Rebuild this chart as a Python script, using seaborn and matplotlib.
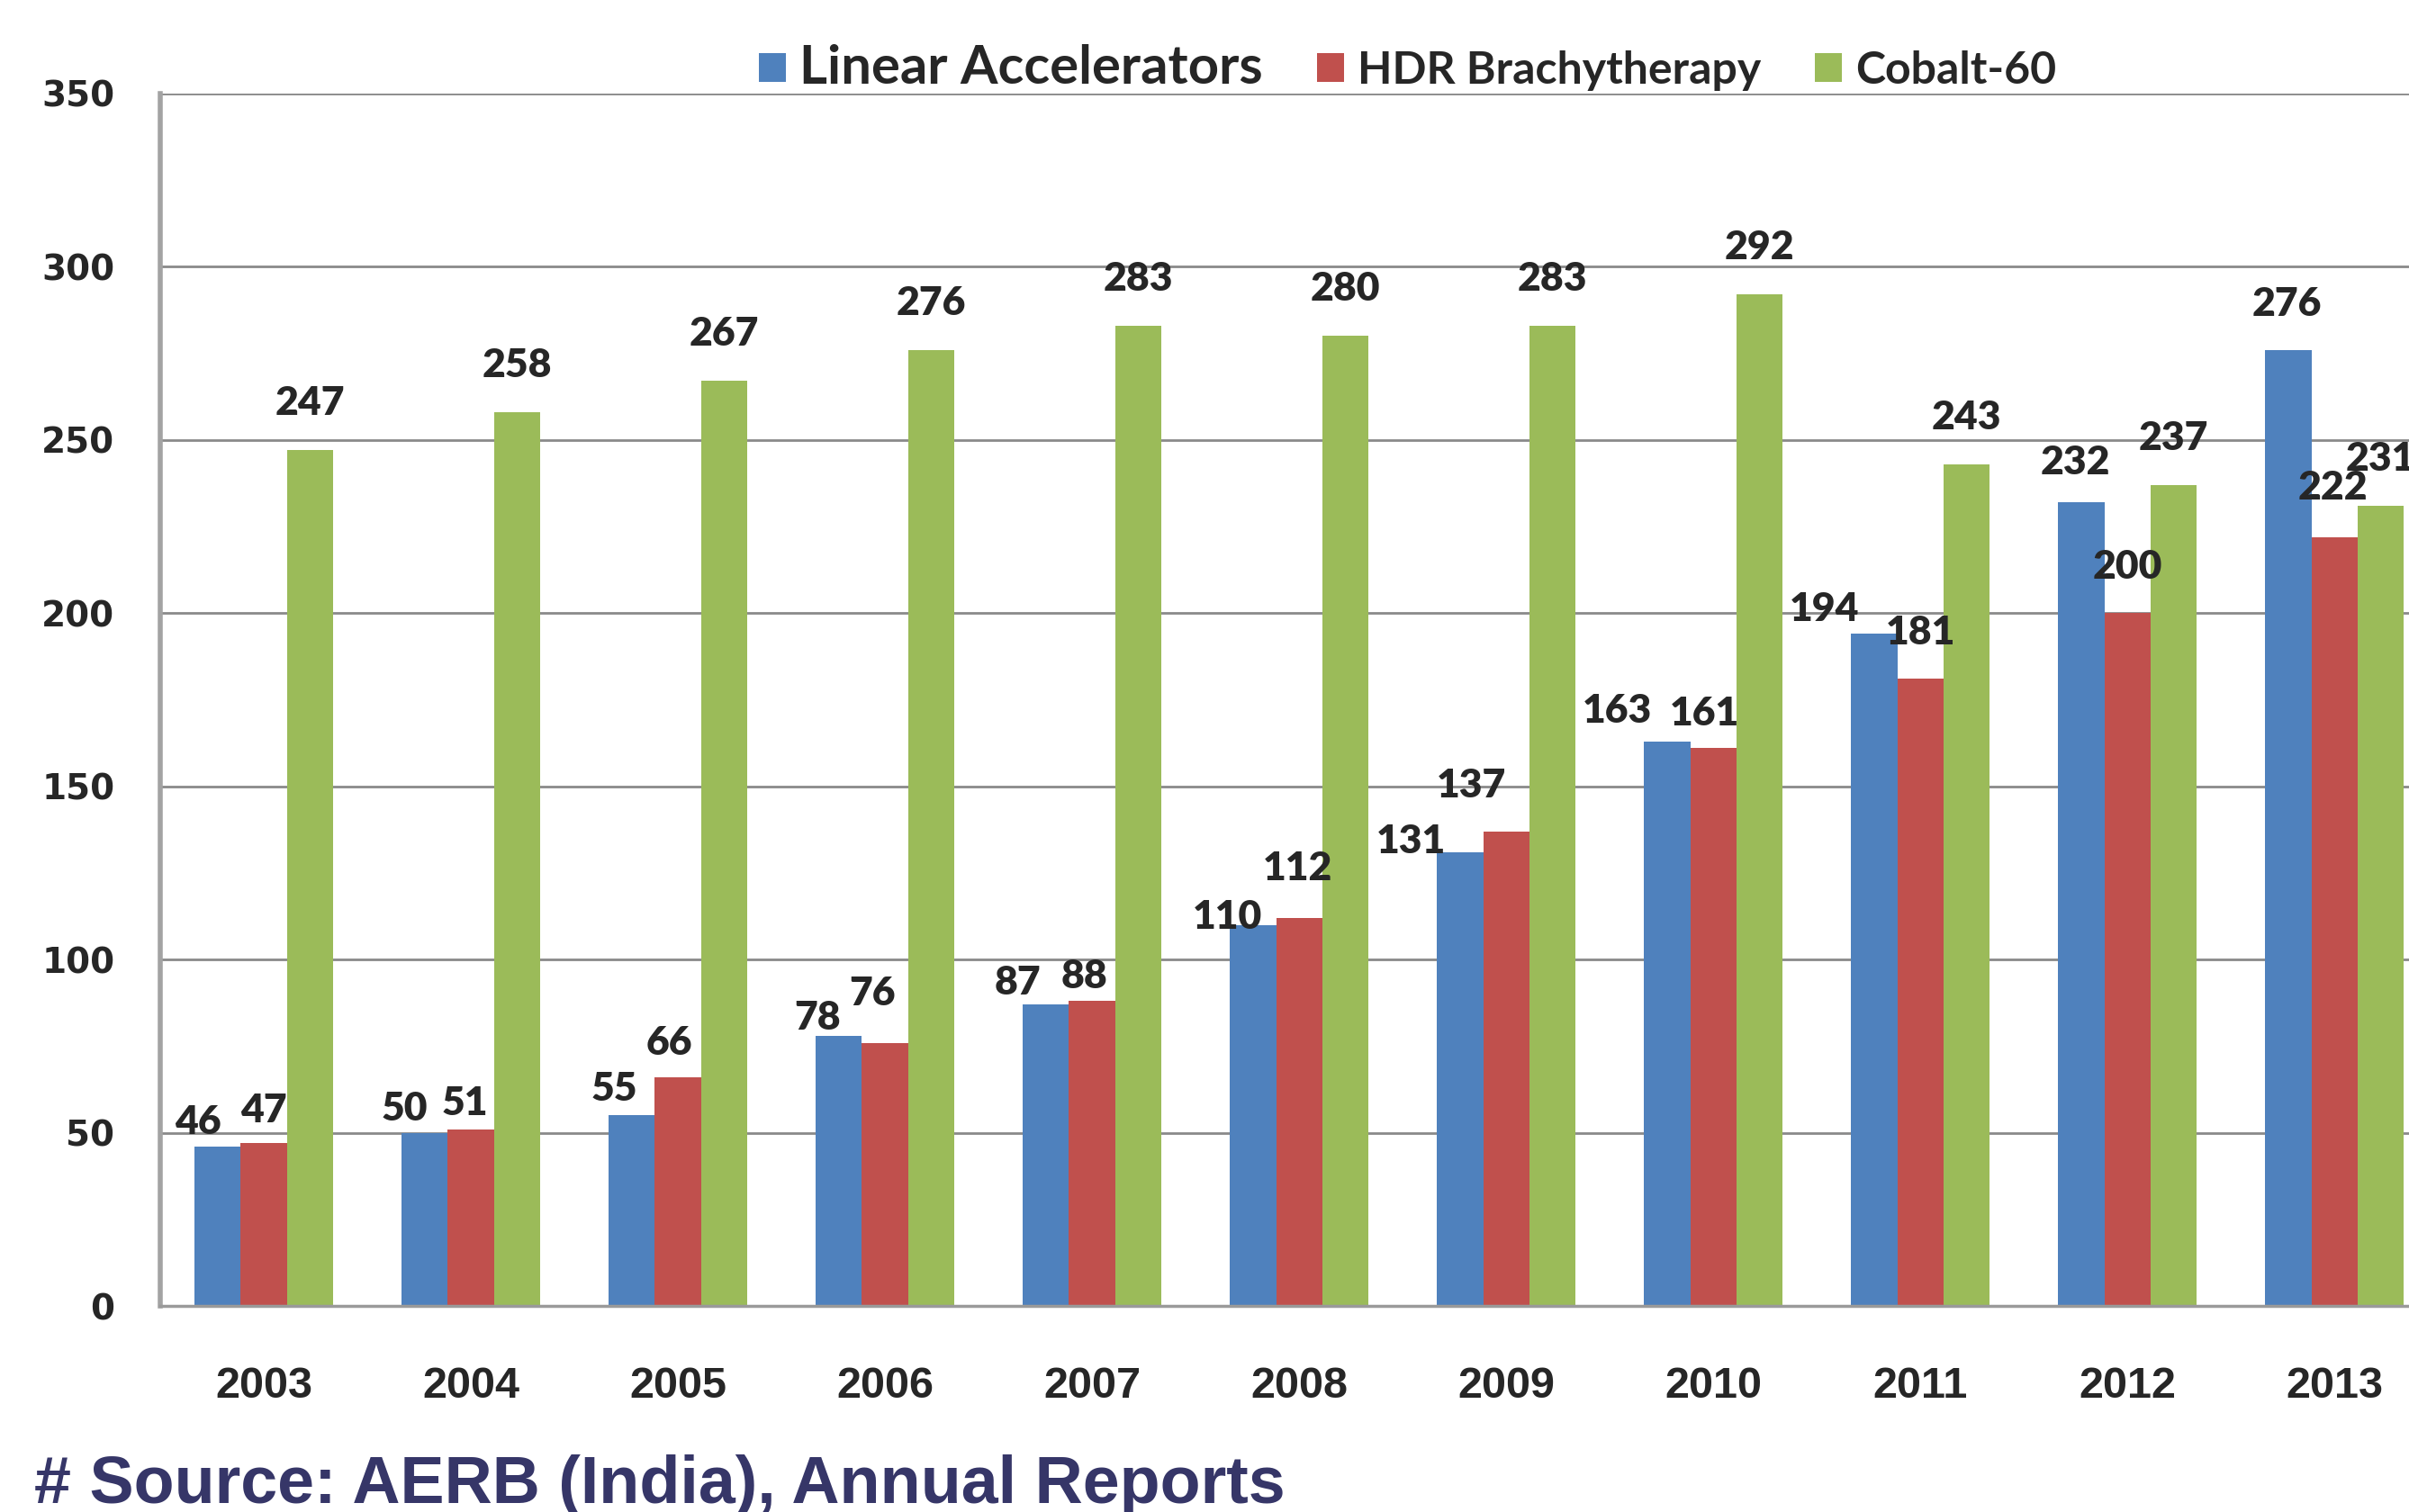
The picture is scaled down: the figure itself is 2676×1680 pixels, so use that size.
import numpy as np
import pandas as pd
import matplotlib
matplotlib.use("Agg")
import matplotlib.pyplot as plt
import seaborn as sns

# Radiotherapy units in India by year
years = ['2003', '2004', '2005', '2006', '2007', '2008', '2009', '2010', '2011', '2012', '2013']
linac = [46, 50, 55, 78, 87, 110, 131, 163, 194, 232, 276]
hdr = [47, 51, 66, 76, 88, 112, 137, 161, 181, 200, 222]
cobalt = [247, 258, 267, 276, 283, 280, 283, 292, 243, 237, 231]
series_names = ['Linear Accelerators', 'HDR Brachytherapy', 'Cobalt-60']
colours = ['#4F81BD', '#C0504D', '#9BBB59']

# nudges for the value labels (pixels), the original had them hand-placed
label_dx = [[-22, -22, -20, -24, -31, -29, -55, -56, -55, -7, -2],
            [0, -7, -10, -14, -9, -2, -39, -10, 0, 0, -2],
            [0] * 11]
label_dy = [[27, 27, 29, 20, 24, 9, 12, 34, 27, 44, 51],
            [36, 29, 38, 55, 27, 55, 51, 38, 51, 51, 55],
            [52] * 11]

df = pd.DataFrame({
    'year': years * 3,
    'count': linac + hdr + cobalt,
    'type': np.repeat(series_names, len(years)),
})

sns.set_style('white')
plt.rcParams['font.family'] = ['DejaVu Sans']

fig = plt.figure(figsize=(26.76, 16.8), dpi=100)
ax = fig.add_axes([0.0665, 0.1363, 0.9335, 0.8018])

sns.barplot(data=df, x='year', y='count', hue='type', hue_order=series_names,
            palette=colours, width=0.667, saturation=1, linewidth=0, ax=ax)

ax.set_yticks(range(0, 351, 50))
ax.set_xticks(np.arange(-0.5, 11, 1), minor=True)
ax.set_xlim(-0.5, 10.36)
ax.set_ylim(0, 350)
ax.set_xlabel('')
ax.set_ylabel('')

ax.yaxis.grid(True, color='#8a8a8a', linewidth=2)
ax.set_axisbelow(True)
for side in ['top', 'right']:
    ax.spines[side].set_visible(False)
ax.spines['left'].set_color('#a3a3a3')
ax.spines['left'].set_linewidth(4)
ax.spines['bottom'].set_color('#9a9a9a')
ax.spines['bottom'].set_linewidth(2.5)

ax.tick_params(axis='y', length=13.5, width=2, color='#8a8a8a', pad=23)
ax.tick_params(axis='x', which='major', length=0, pad=48)
ax.tick_params(axis='x', which='minor', length=14.4, width=1.5, color='#555555')

for lbl in ax.get_yticklabels():
    lbl.set_fontfamily('DejaVu Sans')
    lbl.set_fontweight('bold')
    lbl.set_fontsize(28)
for lbl in ax.get_xticklabels():
    lbl.set_fontfamily('Liberation Sans')
    lbl.set_fontweight('bold')
    lbl.set_fontsize(35)

# value labels
for container, dxs, dys in zip(ax.containers, label_dx, label_dy):
    for bar, dx, dy in zip(container, dxs, dys):
        h = bar.get_height()
        ax.annotate(f'{int(round(h))}', xy=(bar.get_x() + bar.get_width() / 2, h),
                    xytext=(dx, dy), textcoords='offset pixels',
                    ha='center', va='center', fontfamily='Lato',
                    fontweight='heavy', fontsize=32, annotation_clip=False)

handles, labels = ax.get_legend_handles_labels()
if ax.get_legend() is not None:
    ax.get_legend().remove()
leg = fig.legend(handles, labels, loc='center', bbox_to_anchor=(0.5844, 0.955),
                 ncol=3, frameon=False,
                 prop={'family': 'Lato', 'weight': 'bold', 'size': 36},
                 handlelength=0.6, handleheight=0.6, handletextpad=0.3,
                 columnspacing=1.2)
leg.get_texts()[0].set_fontsize(43)

fig.text(38 / 2676, 10 / 1680, '# Source: AERB (India), Annual Reports',
         fontfamily='Liberation Sans', fontweight='bold', fontsize=53,
         color='#363668', ha='left', va='baseline')

fig.savefig('out.png', dpi=100)
